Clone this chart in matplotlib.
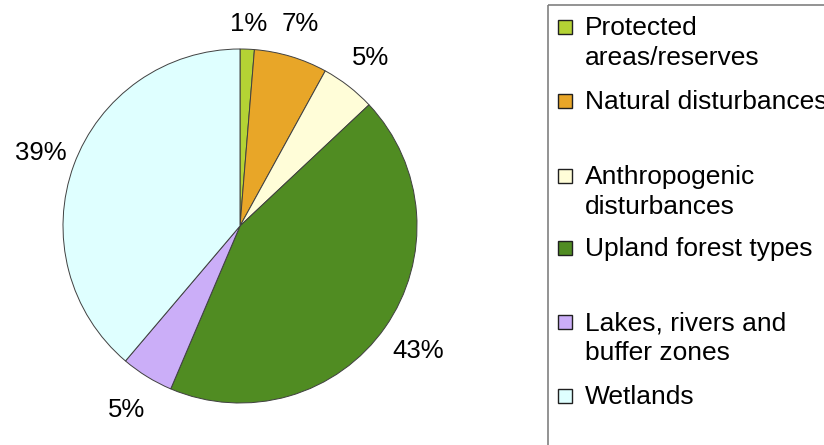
# Coding: utf-8

"""Land cover share pie chart"""

import numpy as np
import matplotlib
matplotlib.use('Agg')
import matplotlib.pyplot as plt
from matplotlib.patches import Rectangle

plt.rcParams['font.family'] = ['Liberation Sans', 'DejaVu Sans']

# Data
categories = ['Protected\nareas/reserves', 'Natural disturbances',
              'Anthropogenic\ndisturbances', 'Upland forest types',
              'Lakes, rivers and\nbuffer zones', 'Wetlands']
shares = [1.3, 6.7, 5.0, 43.4, 4.8, 38.8]
pct_labels = ['1%', '7%', '5%', '43%', '5%', '39%']
colors = ['#B4D334', '#E8A628', '#FFFDD8', '#508C22', '#CBAEF8', '#DFFFFF']

W, H = 824, 445
fig = plt.figure(figsize=(W / 100, H / 100), dpi=100)

# Pie area: centre (240, 226), radius 177 px
cx, cy, r = 240, 226, 177
ax = fig.add_axes([(cx - r) / W, (H - cy - r) / H, 2 * r / W, 2 * r / H])
wedges, _ = ax.pie(shares, colors=colors, startangle=90, counterclock=False,
                   wedgeprops=dict(edgecolor='#404040', linewidth=0.7))
ax.set_xlim(-1, 1)
ax.set_ylim(-1, 1)
ax.set_aspect('equal')
ax.axis('off')

# Percent labels outside the slices
label_dist = [1.14, 1.19, 1.2, 1.23, 1.22, 1.2]
for w, lab, d in zip(wedges, pct_labels, label_dist):
    ang = np.deg2rad((w.theta1 + w.theta2) / 2.0)
    ax.text(d * np.cos(ang), d * np.sin(ang), lab, ha='center', va='center',
            fontsize=18.5, color='black', clip_on=False)

# Legend drawn in pixel coordinates
lax = fig.add_axes([0, 0, 1, 1])
lax.set_xlim(0, W)
lax.set_ylim(H, 0)
lax.axis('off')
lax.add_patch(Rectangle((548, 5), 400, 500, facecolor='none',
                        edgecolor='#808080', linewidth=1.2, clip_on=False))
ys = [27, 101, 176, 248, 322, 396]
for y, lab, c in zip(ys, categories, colors):
    lax.add_patch(Rectangle((558, y - 7), 14, 14, facecolor=c,
                            edgecolor='#202020', linewidth=1.0))
    lax.text(585, y - 11, lab, ha='left', va='top', fontsize=19,
             linespacing=1.3, color='black')

plt.savefig('out.png', dpi=100)
